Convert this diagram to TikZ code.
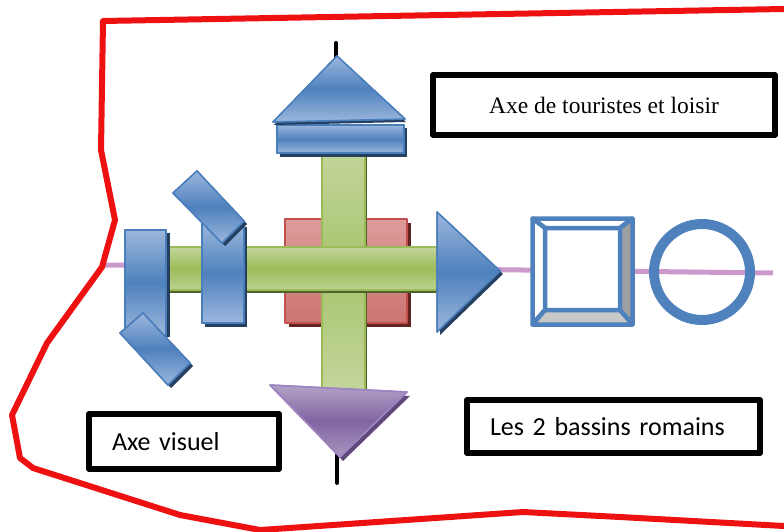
\documentclass[tikz,border=0pt]{standalone}
\usepackage{fontspec}
\newfontfamily\serifA{Liberation Serif}
\newfontfamily\sansA{Carlito}
\definecolor{bluemid}{HTML}{4F81BD}
\definecolor{bluelight}{HTML}{9BB7DD}
\definecolor{bluedark}{HTML}{243F60}
\definecolor{bluestroke}{HTML}{4A7EBB}
\definecolor{greenlight}{HTML}{C3D69B}
\definecolor{greenmid}{HTML}{9BBB59}
\definecolor{greendark}{HTML}{4F6228}
\definecolor{redlight}{HTML}{DC9B99}
\definecolor{redmid}{HTML}{CD7573}
\definecolor{redstroke}{HTML}{C0504D}
\definecolor{reddark}{HTML}{632523}
\definecolor{purplelight}{HTML}{B3A2C7}
\definecolor{purplemid}{HTML}{8064A2}
\definecolor{purplestroke}{HTML}{9B84C0}
\definecolor{purpledark}{HTML}{5F497A}
\definecolor{pinkaxis}{RGB}{204,153,204}
\definecolor{bevelgray}{HTML}{A0A0A0}
\definecolor{bevellight}{HTML}{C8C8C8}
\definecolor{boundary}{HTML}{EE1111}
\begin{document}
\begin{tikzpicture}[x=1pt,y=-1pt,line join=round,
  blueshape/.style={draw=bluestroke,line width=1.5pt,top color=bluelight,bottom color=bluelight,middle color=bluemid},
  bluerot/.style={blueshape,shading angle=43},
  blueshadow/.style={fill=bluedark},
  greenbar/.style={draw=greenmid,line width=1.5pt,top color=greenlight,bottom color=greenlight!85!greenmid,middle color=greenmid},
  greenvbar/.style={draw=greenmid,line width=1.5pt,top color=greenlight,bottom color=greenlight,middle color=greenmid!70!greenlight},
  textbox/.style={draw=black,line width=6pt,fill=white,inner sep=0pt},
  stick/.style={line width=4pt,line cap=round,black},
  boundline/.style={draw=boundary,line width=6pt}
]
\useasboundingbox (0,0) rectangle (784,532);

% pink axis
\draw[pinkaxis,line width=5pt] (103,265) -- (773,273);

% red square behind
\fill[reddark] (289,223) rectangle (411,327);
\shade[top color=redlight,bottom color=redmid,draw=redstroke,line width=1.5pt] (285,219) rectangle (407,323);

% green vertical bar
\fill[greendark] (324,152) rectangle (367,392);
\shade[greenvbar] (322,150) rectangle (365,390);
\draw[greenvbar] (322,150) rectangle (365,390);

% green horizontal bar
\fill[greendark] (162,250) rectangle (442,293);
\shade[greenbar] (160,247) rectangle (440,290);
\draw[greenbar] (160,247) rectangle (440,290);

% left vertical blue rect
\fill[blueshadow] (128,233) rectangle (170,337);
\shade[blueshape] (125,230) rectangle (166,335);
\draw[blueshape] (125,230) rectangle (166,335);
% bottom-left rotated rect
\fill[blueshadow,shift={(3,3)}] (120,333) -- (143,313) -- (190,363) -- (168,385) -- cycle;
\shade[bluerot] (120,333) -- (143,313) -- (190,363) -- (168,385) -- cycle;
\draw[blueshape] (120,333) -- (143,313) -- (190,363) -- (168,385) -- cycle;

% middle vertical blue rect
\fill[blueshadow] (205,227) rectangle (247,327);
\shade[blueshape] (202,223) rectangle (244,323);
\draw[blueshape] (202,223) rectangle (244,323);
% top rotated rect
\fill[blueshadow,shift={(3,3)}] (173,193) -- (197,171) -- (244,221) -- (222,243) -- cycle;
\shade[bluerot] (173,193) -- (197,171) -- (244,221) -- (222,243) -- cycle;
\draw[blueshape] (173,193) -- (197,171) -- (244,221) -- (222,243) -- cycle;

% top stick and top shapes
\coordinate (topend) at (336,43);
\coordinate (apex) at (336,58);
\draw[stick] (topend) -- (apex);
\fill[blueshadow] (280,128) rectangle (407,157);
\shade[blueshape] (277,125) rectangle (404,153);
\draw[blueshape] (277,125) rectangle (404,153);
\fill[blueshadow,shift={(1,3)}] (337,56) -- (273,122) -- (405,119) -- cycle;
\shade[blueshape] (337,56) -- (273,122) -- (405,119) -- cycle;
\draw[blueshape] (337,56) -- (273,122) -- (405,119) -- cycle;

% right triangle
\fill[blueshadow,shift={(3,3)}] (437,212) -- (500,271) -- (437,332) -- cycle;
\shade[blueshape] (437,212) -- (500,271) -- (437,332) -- cycle;
\draw[blueshape] (437,212) -- (500,271) -- (437,332) -- cycle;

% bottom stick and purple triangle
\coordinate (tip) at (337,455);
\coordinate (botend) at (337,483);
\draw[stick] (tip) -- (botend);
\fill[purpledark,shift={(3,4)}] (270,385) -- (407,392) -- (340,457) -- cycle;
\shade[draw=purplestroke,line width=1.5pt,top color=purplelight,bottom color=purplelight!80!purplemid,middle color=purplemid] (270,385) -- (407,392) -- (340,457) -- cycle;
\draw[draw=purplestroke,line width=1.5pt] (270,385) -- (407,392) -- (340,457) -- cycle;

% bevel square
\begin{scope}[draw=bluemid,line width=4.5pt]
\fill[white] (532.5,218.5) rectangle (632.5,324.5);
\filldraw[fill=white] (532.5,218.5) -- (632.5,218.5) -- (620,228) -- (545,228) -- cycle;
\filldraw[fill=white] (532.5,218.5) -- (545,228) -- (545,310) -- (532.5,324.5) -- cycle;
\filldraw[fill=bevelgray] (632.5,218.5) -- (632.5,324.5) -- (620,310) -- (620,228) -- cycle;
\filldraw[fill=bevellight] (532.5,324.5) -- (545,310) -- (620,310) -- (632.5,324.5) -- cycle;
\draw (545,228) rectangle (620,310);
\end{scope}

% circle
\draw[bluemid,line width=10pt] (702,272) circle[radius=48];

% text boxes
\node[textbox,minimum width=342pt,minimum height=60pt,font=\serifA\fontsize{23.5}{28}\selectfont] (tour) at (604,105) {Axe de touristes et loisir};
\node[textbox,minimum width=190pt,minimum height=55pt,text width=144pt,inner xsep=23pt,align=left,font=\sansA\fontsize{26}{30}\selectfont] (visuel) at (184,441.5) {Axe visuel};
\node[textbox,minimum width=293pt,minimum height=53pt,text width=247pt,inner xsep=23pt,align=left,font=\sansA\fontsize{26}{30}\selectfont] (bassins) at (613.5,426.5) {Les 2 bassins romains};

% red boundary
\draw[boundline] (784,9) -- (103,21) -- (101,150) -- (115,220) -- (102,267) -- (47,343) -- (12,415) -- (20,458) -- (33,468) -- (180,515) -- (260,530) -- (523,512) -- (620,517) -- (784,526);
\end{tikzpicture}
\end{document}
